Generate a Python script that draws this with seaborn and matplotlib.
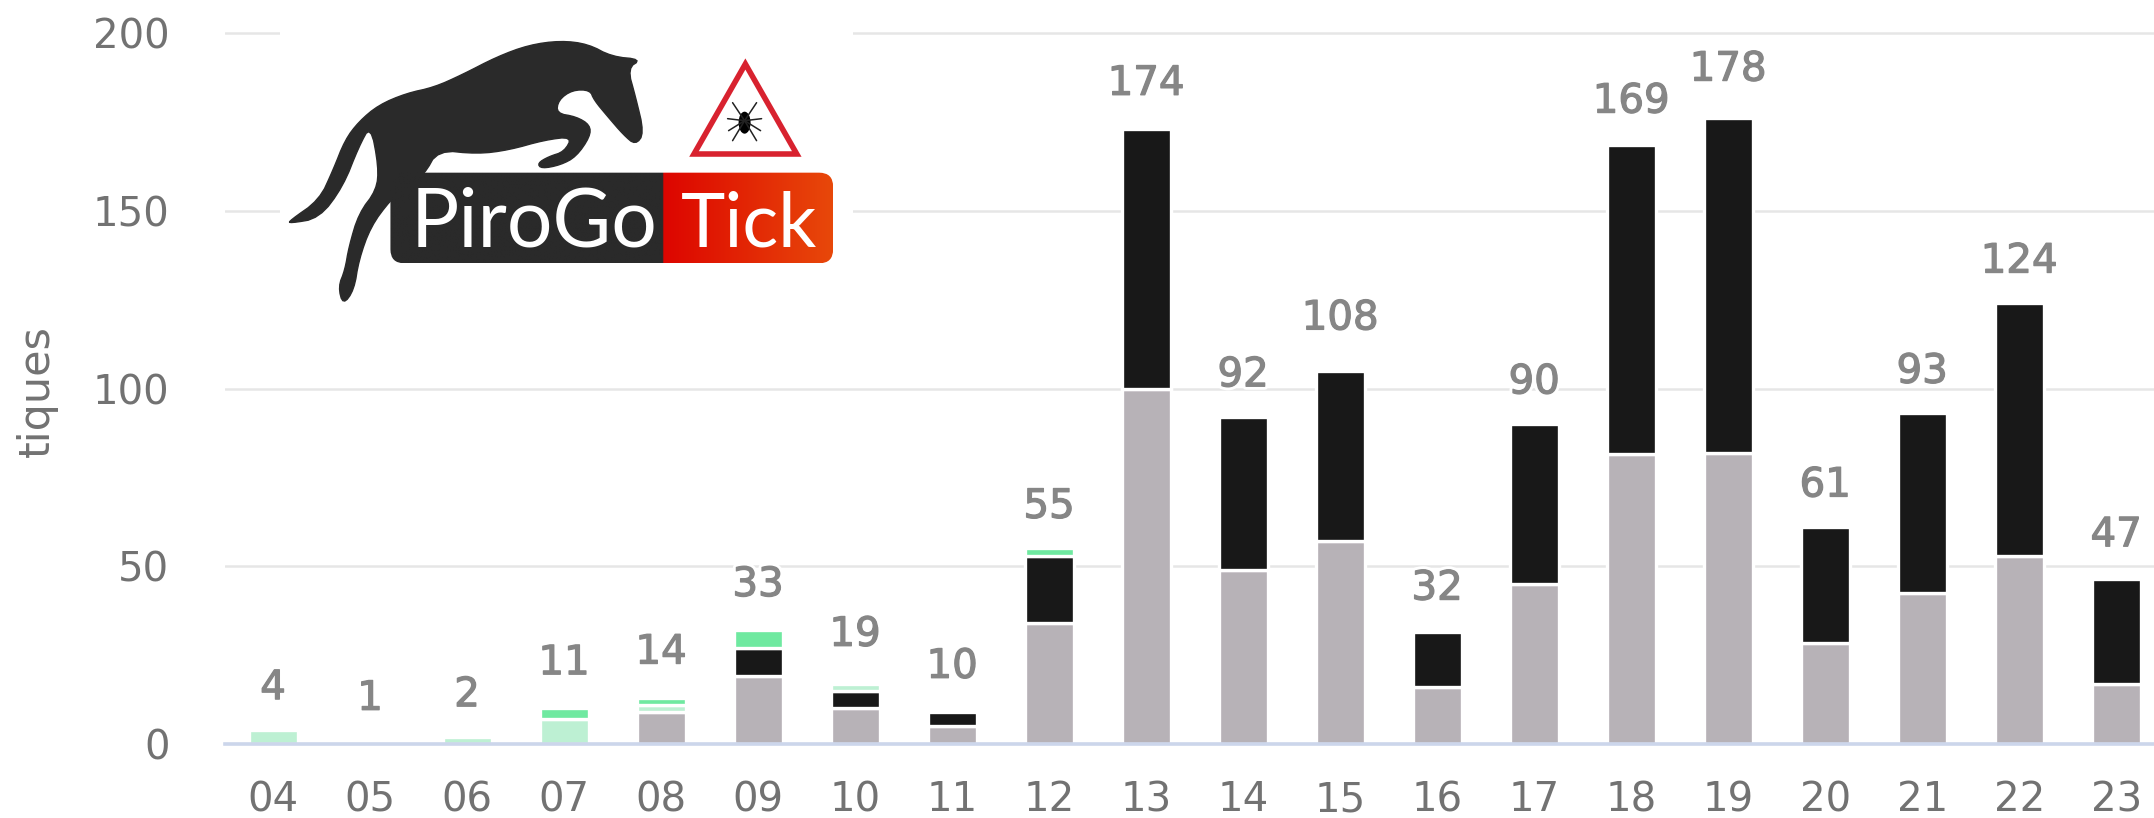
import numpy as np
import pandas as pd
import matplotlib
matplotlib.use("Agg")
import matplotlib.pyplot as plt
import matplotlib.patheffects as pe
from matplotlib.patches import Polygon, FancyBboxPatch, Ellipse, Rectangle
import seaborn as sns

months = ["04","05","06","07","08","09","10","11","12","13","14","15","16","17","18","19","20","21","22","23"]
totals = [4,1,2,11,14,33,19,10,55,174,92,108,32,90,169,178,61,93,124,47]
gray   = [0,0,0,0,9,19,10,5,34,100,49,57,16,45,81.5,82,28.5,42.5,53,17]
black  = [0,0,0,0,0,8,5,4,19,73,43,48,15.5,45,87,94,32.5,50.5,71,29.5]
light  = [4,0,2,7,2,0,2,0,0,0,0,0,0,0,0,0,0,0,0,0]
green  = [0,0,0,3,2,5,0,0,2,0,0,0,0,0,0,0,0,0,0,0]
series_names = ["gris", "noir", "vert clair", "vert"]
series_vals = [gray, black, light, green]
series_cols = ["#b7b2b7", "#181818", "#bdf0d3", "#6fe9a0"]

sns.set_theme(style="white")
plt.rcParams["font.family"] = ["DejaVu Sans"]
W, H = 2154, 818
fig = plt.figure(figsize=(W/100, H/100), dpi=100, facecolor="white")
ax = fig.add_axes([225/W, (H-744)/H, (W-225)/W, 744/H])

rows = []
for name, vals in zip(series_names, series_vals):
    for m, v in zip(months, vals):
        rows.append({"mois": m, "serie": name, "tiques": v})
df = pd.DataFrame(rows)

bottom = np.zeros(len(months))
for name, vals, col in zip(series_names, series_vals, series_cols):
    vals = np.array(vals, dtype=float)
    keep = vals > 0
    sub = df[(df.serie == name) & (df.tiques > 0)]
    sns.barplot(data=sub, x="mois", y="tiques", order=months, color=col, saturation=1,
                width=0.505, errorbar=None, bottom=bottom[keep],
                edgecolor="white", linewidth=2.4, ax=ax, zorder=3)
    bottom += vals

ax.set_xlim(-0.495, 19.39)
ax.set_ylim(0, 209.3)
ax.set_yticks([0, 50, 100, 150, 200])
ax.yaxis.grid(True, color="#e6e6e6", linewidth=1.8, zorder=0)
ax.xaxis.grid(False)
ax.set_axisbelow(True)
for s in ["top", "right", "left"]:
    ax.spines[s].set_visible(False)
ax.spines["bottom"].set_color("#ccd6eb")
ax.spines["bottom"].set_linewidth(2.6)
ax.spines["bottom"].set_zorder(6)
ax.tick_params(axis="x", length=0, pad=26, labelsize=29, labelcolor="#727272")
ax.tick_params(axis="y", length=0, pad=40, labelsize=29, labelcolor="#727272")
ax.set_xlabel("")
ax.set_ylabel("tiques", fontsize=31, color="#727272", y=0.474)
ax.yaxis.set_label_coords(-0.0866, 0.474)

for i, t in enumerate(totals):
    ax.annotate(str(t), (i, t), xytext=(0, 30), textcoords="offset points",
                ha="center", va="center", fontsize=29, color="#868686", zorder=7,
                path_effects=[pe.Stroke(linewidth=5, foreground="white"),
                              pe.Stroke(linewidth=0.9, foreground="#868686"), pe.Normal()])

# logo overlay, in zoom-derived picture coordinates
ov = fig.add_axes([0, 0, 1, 1], zorder=10)
ov.set_xlim(0, W); ov.set_ylim(H, 0); ov.axis("off"); ov.patch.set_alpha(0)
def P(zx, zy):
    return (260 + zx/2.53, zy/3)
def chaikin(pts, n=2):
    pts = np.array(pts, dtype=float)
    for _ in range(n):
        q = 0.75*pts + 0.25*np.roll(pts, -1, axis=0)
        r = 0.25*pts + 0.75*np.roll(pts, -1, axis=0)
        pts = np.column_stack([q, r]).reshape(-1, 2)
    return pts
ov.add_patch(Rectangle((280, 0), 573, 300, fc="white", ec="none"))

horse = [(75,662),(150,600),(185,510),(215,420),(250,365),(300,315),(370,280),(440,262),(510,225),
         (600,170),(680,135),(760,122),(830,132),(890,170),(965,178),(930,205),(950,290),(972,400),
         (950,435),(920,405),(880,350),(845,300),(835,270),(790,270),(755,300),(750,340),(800,350),
         (835,375),(835,410),(800,470),(760,495),(712,506),(702,490),(730,470),(770,455),(790,410),
         (720,420),(630,450),(550,462),(450,450),(415,525),(370,560),(330,600),(280,680),(250,780),
         (238,870),(210,915),(198,860),(215,810),(225,740),(250,640),(295,570),(300,500),(280,375),
         (250,440),(210,560),(150,655),(75,670)]
ov.add_patch(Polygon([P(*p) for p in chaikin(horse)], closed=True, fc="#2a2a2a", ec="#2a2a2a", lw=1))

x0, y0 = P(330, 518); x1, y1 = P(1450, 790)
box = FancyBboxPatch((x0+14, y0+14), x1-x0-28, y1-y0-28, boxstyle="round,pad=14,rounding_size=14",
                     fc="none", ec="none", transform=ov.transData)
ov.add_patch(box)
xs = np.linspace(x0, x1, 300)
c_dark = np.array([0x2a,0x2a,0x2a])/255
c_red = np.array([0xdd,0x05,0x00])/255
c_or = np.array([0xe8,0x48,0x0a])/255
split = P(1022, 0)[0]
grad = np.zeros((1, 300, 3))
for i, x in enumerate(xs):
    if x < split:
        grad[0, i] = c_dark
    else:
        f = (x-split)/(x1-split)
        grad[0, i] = c_red*(1-f) + c_or*f
im = ov.imshow(grad, extent=(x0, x1, y1, y0), aspect="auto", zorder=2, interpolation="bilinear")
im.set_clip_path(box)
ov.set_xlim(0, W); ov.set_ylim(H, 0)

lx, ly = P(380, 740)
ov.text(lx, ly, "PiroGo", family="Lato", fontsize=58, color="white", va="baseline", ha="left", zorder=3)
lx, ly = P(1065, 740)
ov.text(lx, ly, "Tick", family="Lato", fontsize=54, color="white", va="baseline", ha="left", zorder=3)

ov.add_patch(Polygon([P(1228,192), P(1098,462), P(1358,462)], closed=True, fc="white", ec="#d8222f",
                     lw=4, joinstyle="miter", zorder=3))
cx, cy = P(1226, 368)
ov.add_patch(Ellipse((cx, cy), 12, 22, fc="black", ec="none", zorder=4))
for dx, dy in [(-12,-20),(12,-20),(-17,-4),(17,-4),(-16,8),(16,8),(-12,18),(12,18)]:
    ov.plot([cx, cx+dx], [cy-2, cy+dy], color="#222222", lw=1.1, zorder=4, solid_capstyle="round")

fig.savefig("out.png", dpi=100, facecolor="white")
